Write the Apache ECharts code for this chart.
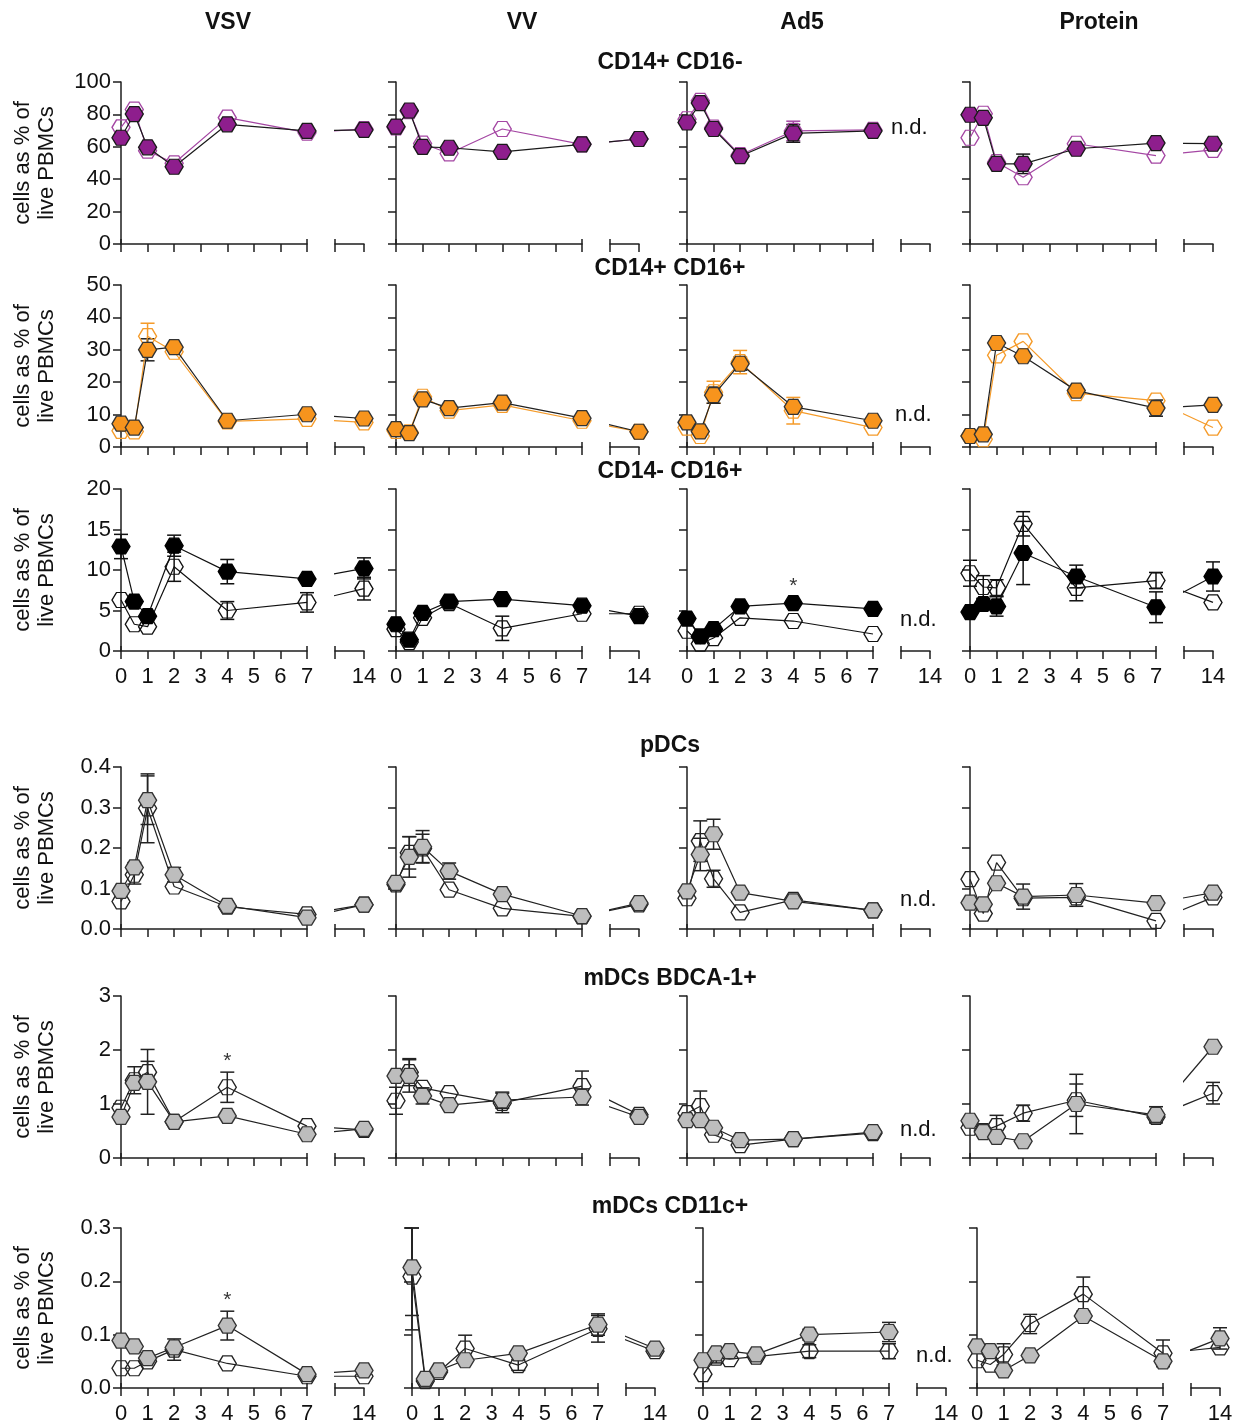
<!DOCTYPE html>
<html>
<head>
<meta charset="utf-8">
<script src="https://cdn.jsdelivr.net/npm/echarts@6/dist/echarts.min.js"></script>
<style>
  html, body { margin: 0; background: #fff; }
  #chart { width: 1247px; height: 1425px; }
</style>
</head>
<body>
<div id="chart"></div>
<script>
// Myeloid cell kinetics after vaccination - 6 populations x 4 vectors
// Broken x axis (days 0-7 | 14), filled vs open groups, mean +/- SEM.

const days = [0, 0.5, 1, 2, 4, 7, 14];
const vectors = ['VSV', 'VV', 'Ad5', 'Protein'];
const populations = ['CD14+ CD16-', 'CD14+ CD16+', 'CD14- CD16+', 'pDCs', 'mDCs BDCA-1+', 'mDCs CD11c+'];
const yMax = [100, 50, 20, 0.4, 3, 0.3];
const yStep = [20, 10, 5, 0.1, 1, 0.1];
const yDecimals = [0, 0, 0, 1, 0, 1];
const lateDayLabel = '14';
const yTitle = 'cells as % of\nlive PBMCs';
const notDone = 'n.d.';

// CD14+ CD16-
const mono_VSV_fill = [65.6, 80.2, 59.7, 47.7, 73.9, 69.8, 70.4];
const mono_VSV_fillSem = [0, 0, 0, 0, 0, 0, 0];
const mono_VSV_open = [72.0, 83.0, 57.6, 49.8, 78.0, 68.7, 71.0];
const mono_VSV_openSem = [0, 0, 0, 0, 0, 0, 0];
const mono_VV_fill = [72.5, 82.4, 60.0, 59.4, 56.9, 61.5, 64.8];
const mono_VV_fillSem = [0, 0, 0, 0, 0, 0, 0];
const mono_VV_open = [72.0, 82.0, 62.0, 55.9, 71.0, 61.5, 64.8];
const mono_VV_openSem = [0, 0, 0, 0, 0, 0, 0];
const mono_Ad5_fill = [75.0, 87.0, 71.0, 54.2, 68.3, 69.8, null];
const mono_Ad5_fillSem = [0, 0, 0, 0, 5.5, 0, null];
const mono_Ad5_open = [77.0, 88.4, 71.8, 54.9, 69.8, 70.4, null];
const mono_Ad5_openSem = [0, 1.5, 0, 0, 6.0, 0, null];
const mono_Prot_fill = [79.8, 77.9, 49.5, 49.5, 58.8, 62.3, 61.9];
const mono_Prot_fillSem = [0, 0, 0, 6.0, 0, 0, 0];
const mono_Prot_open = [65.6, 80.4, 50.5, 41.2, 61.9, 54.6, 58.1];
const mono_Prot_openSem = [0, 0, 0, 0, 0, 0, 0];

// CD14+ CD16+
const inter_VSV_fill = [7.2, 6.0, 30.0, 30.8, 8.1, 10.1, 8.8];
const inter_VSV_fillSem = [0, 0, 3.4, 0, 0, 0, 0];
const inter_VSV_open = [5.0, 4.8, 34.2, 29.4, 7.9, 8.7, 7.6];
const inter_VSV_openSem = [0, 0, 4.0, 0, 0, 0, 0];
const inter_VV_fill = [5.5, 4.3, 14.7, 12.0, 13.7, 8.9, 4.7];
const inter_VV_fillSem = [0, 0, 0, 0, 0, 0, 0];
const inter_VV_open = [5.0, 4.5, 15.5, 11.2, 13.0, 8.1, 4.7];
const inter_VV_openSem = [0, 0, 0, 0, 0, 0, 0];
const inter_Ad5_fill = [7.6, 4.8, 16.0, 25.7, 12.4, 8.1, null];
const inter_Ad5_fillSem = [0, 0, 2.5, 2.0, 0, 0, null];
const inter_Ad5_open = [6.0, 3.4, 16.9, 26.2, 11.2, 6.0, null];
const inter_Ad5_openSem = [0, 0, 3.4, 3.6, 4.1, 0, null];
const inter_Prot_fill = [3.4, 3.9, 32.1, 28.0, 17.4, 12.0, 13.0];
const inter_Prot_fillSem = [0, 0, 0, 0, 0, 2.5, 0];
const inter_Prot_open = [3.4, 2.4, 28.3, 32.6, 16.6, 14.3, 6.0];
const inter_Prot_openSem = [0, 0, 0, 0, 0, 0, 0];

// CD14- CD16+
const nonc_VSV_fill = [12.9, 6.1, 4.3, 13.0, 9.8, 8.9, 10.2];
const nonc_VSV_fillSem = [1.5, 0, 0, 1.3, 1.5, 0, 1.3];
const nonc_VSV_open = [6.3, 3.3, 3.0, 10.4, 5.0, 6.0, 7.7];
const nonc_VSV_openSem = [0, 0, 0, 1.8, 1.1, 1.2, 1.4];
const nonc_VV_fill = [3.3, 1.4, 4.7, 6.1, 6.4, 5.6, 4.3];
const nonc_VV_fillSem = [0, 0, 0, 0, 0, 0, 0];
const nonc_VV_open = [2.7, 1.1, 4.1, 5.9, 2.8, 4.6, 4.6];
const nonc_VV_openSem = [0, 0, 0, 0, 1.5, 0, 0];
const nonc_Ad5_fill = [4.0, 1.8, 2.7, 5.5, 5.9, 5.2, null];
const nonc_Ad5_fillSem = [0, 0, 0, 0, 0, 0, null];
const nonc_Ad5_open = [2.5, 0.9, 1.6, 4.1, 3.7, 2.1, null];
const nonc_Ad5_openSem = [0, 0, 0, 0, 0, 0, null];
const nonc_Prot_fill = [4.8, 5.8, 5.5, 12.1, 9.2, 5.4, 9.2];
const nonc_Prot_fillSem = [0, 0.6, 1.2, 3.9, 1.4, 1.9, 1.8];
const nonc_Prot_open = [9.6, 7.9, 7.8, 15.7, 7.8, 8.7, 6.0];
const nonc_Prot_openSem = [1.6, 1.4, 1.0, 1.5, 1.6, 1.0, 0];

// pDCs
const pdc_VSV_fill = [0.094, 0.152, 0.318, 0.134, 0.057, 0.028, 0.060];
const pdc_VSV_fillSem = [0, 0.012, 0.060, 0.018, 0, 0, 0];
const pdc_VSV_open = [0.068, 0.134, 0.298, 0.105, 0.055, 0.036, 0.060];
const pdc_VSV_openSem = [0, 0.023, 0.085, 0, 0, 0, 0];
const pdc_VV_fill = [0.114, 0.178, 0.203, 0.143, 0.086, 0.032, 0.064];
const pdc_VV_fillSem = [0, 0.050, 0.040, 0.020, 0, 0, 0];
const pdc_VV_open = [0.110, 0.188, 0.199, 0.097, 0.051, 0.031, 0.061];
const pdc_VV_openSem = [0, 0.040, 0.035, 0, 0, 0, 0];
const pdc_Ad5_fill = [0.093, 0.184, 0.234, 0.090, 0.068, 0.046, null];
const pdc_Ad5_fillSem = [0, 0.040, 0.037, 0, 0, 0, null];
const pdc_Ad5_open = [0.076, 0.217, 0.124, 0.041, 0.072, 0.046, null];
const pdc_Ad5_openSem = [0, 0.050, 0.021, 0, 0, 0, null];
const pdc_Prot_fill = [0.065, 0.061, 0.113, 0.080, 0.084, 0.064, 0.090];
const pdc_Prot_fillSem = [0, 0, 0, 0.031, 0.028, 0, 0];
const pdc_Prot_open = [0.123, 0.038, 0.164, 0.076, 0.078, 0.020, 0.078];
const pdc_Prot_openSem = [0, 0, 0, 0, 0, 0, 0];

// mDCs BDCA-1+
const mdc1_VSV_fill = [0.76, 1.39, 1.41, 0.67, 0.78, 0.44, 0.54];
const mdc1_VSV_fillSem = [0, 0, 0.60, 0, 0, 0, 0];
const mdc1_VSV_open = [0.93, 1.44, 1.59, 0.67, 1.31, 0.59, 0.52];
const mdc1_VSV_openSem = [0, 0.25, 0.20, 0, 0.28, 0, 0];
const mdc1_VV_fill = [1.52, 1.52, 1.15, 0.98, 1.07, 1.13, 0.76];
const mdc1_VV_fillSem = [0, 0.30, 0.15, 0, 0.15, 0.15, 0];
const mdc1_VV_open = [1.06, 1.59, 1.30, 1.20, 1.02, 1.33, 0.80];
const mdc1_VV_openSem = [0.25, 0.25, 0, 0, 0.18, 0.28, 0];
const mdc1_Ad5_fill = [0.70, 0.70, 0.56, 0.33, 0.35, 0.48, null];
const mdc1_Ad5_fillSem = [0, 0, 0, 0, 0, 0, null];
const mdc1_Ad5_open = [0.83, 0.96, 0.43, 0.24, 0.35, 0.46, null];
const mdc1_Ad5_openSem = [0, 0.28, 0, 0, 0, 0, null];
const mdc1_Prot_fill = [0.69, 0.48, 0.39, 0.31, 1.00, 0.80, 2.06];
const mdc1_Prot_fillSem = [0, 0, 0, 0, 0.55, 0.15, 0];
const mdc1_Prot_open = [0.56, 0.50, 0.59, 0.83, 1.07, 0.76, 1.20];
const mdc1_Prot_openSem = [0, 0, 0.20, 0.15, 0.30, 0, 0.20];

// mDCs CD11c+
const mdc11_VSV_fill = [0.089, 0.078, 0.056, 0.076, 0.117, 0.026, 0.033];
const mdc11_VSV_fillSem = [0, 0, 0, 0, 0.027, 0, 0];
const mdc11_VSV_open = [0.037, 0.037, 0.050, 0.072, 0.046, 0.022, 0.022];
const mdc11_VSV_openSem = [0, 0, 0, 0.020, 0, 0, 0];
const mdc11_VV_fill = [0.226, 0.017, 0.033, 0.052, 0.065, 0.119, 0.074];
const mdc11_VV_fillSem = [0.090, 0, 0, 0, 0, 0.020, 0];
const mdc11_VV_open = [0.209, 0.013, 0.030, 0.074, 0.043, 0.111, 0.069];
const mdc11_VV_openSem = [0.100, 0, 0, 0.025, 0.010, 0.025, 0];
const mdc11_Ad5_fill = [0.052, 0.065, 0.069, 0.063, 0.100, 0.105, null];
const mdc11_Ad5_fillSem = [0, 0, 0, 0, 0.010, 0.018, null];
const mdc11_Ad5_open = [0.026, 0.057, 0.054, 0.059, 0.069, 0.069, null];
const mdc11_Ad5_openSem = [0, 0.010, 0, 0, 0.012, 0.014, null];
const mdc11_Prot_fill = [0.078, 0.069, 0.033, 0.061, 0.135, 0.050, 0.093];
const mdc11_Prot_fillSem = [0, 0, 0, 0, 0, 0, 0.020];
const mdc11_Prot_open = [0.052, 0.044, 0.063, 0.120, 0.176, 0.065, 0.076];
const mdc11_Prot_openSem = [0, 0, 0.020, 0.018, 0.032, 0.025, 0];

// significance stars: [population, vector, day index, group]
const starMarks = [[2, 2, 4, 'fill'], [4, 0, 4, 'open'], [5, 0, 4, 'fill']];

const table = [
    [[mono_VSV_fill, mono_VSV_fillSem, mono_VSV_open, mono_VSV_openSem],
     [mono_VV_fill, mono_VV_fillSem, mono_VV_open, mono_VV_openSem],
     [mono_Ad5_fill, mono_Ad5_fillSem, mono_Ad5_open, mono_Ad5_openSem],
     [mono_Prot_fill, mono_Prot_fillSem, mono_Prot_open, mono_Prot_openSem]],
    [[inter_VSV_fill, inter_VSV_fillSem, inter_VSV_open, inter_VSV_openSem],
     [inter_VV_fill, inter_VV_fillSem, inter_VV_open, inter_VV_openSem],
     [inter_Ad5_fill, inter_Ad5_fillSem, inter_Ad5_open, inter_Ad5_openSem],
     [inter_Prot_fill, inter_Prot_fillSem, inter_Prot_open, inter_Prot_openSem]],
    [[nonc_VSV_fill, nonc_VSV_fillSem, nonc_VSV_open, nonc_VSV_openSem],
     [nonc_VV_fill, nonc_VV_fillSem, nonc_VV_open, nonc_VV_openSem],
     [nonc_Ad5_fill, nonc_Ad5_fillSem, nonc_Ad5_open, nonc_Ad5_openSem],
     [nonc_Prot_fill, nonc_Prot_fillSem, nonc_Prot_open, nonc_Prot_openSem]],
    [[pdc_VSV_fill, pdc_VSV_fillSem, pdc_VSV_open, pdc_VSV_openSem],
     [pdc_VV_fill, pdc_VV_fillSem, pdc_VV_open, pdc_VV_openSem],
     [pdc_Ad5_fill, pdc_Ad5_fillSem, pdc_Ad5_open, pdc_Ad5_openSem],
     [pdc_Prot_fill, pdc_Prot_fillSem, pdc_Prot_open, pdc_Prot_openSem]],
    [[mdc1_VSV_fill, mdc1_VSV_fillSem, mdc1_VSV_open, mdc1_VSV_openSem],
     [mdc1_VV_fill, mdc1_VV_fillSem, mdc1_VV_open, mdc1_VV_openSem],
     [mdc1_Ad5_fill, mdc1_Ad5_fillSem, mdc1_Ad5_open, mdc1_Ad5_openSem],
     [mdc1_Prot_fill, mdc1_Prot_fillSem, mdc1_Prot_open, mdc1_Prot_openSem]],
    [[mdc11_VSV_fill, mdc11_VSV_fillSem, mdc11_VSV_open, mdc11_VSV_openSem],
     [mdc11_VV_fill, mdc11_VV_fillSem, mdc11_VV_open, mdc11_VV_openSem],
     [mdc11_Ad5_fill, mdc11_Ad5_fillSem, mdc11_Ad5_open, mdc11_Ad5_openSem],
     [mdc11_Prot_fill, mdc11_Prot_fillSem, mdc11_Prot_open, mdc11_Prot_openSem]]
];

(function () {
    'use strict';

    const FONT = '"Liberation Sans", Arial, sans-serif';
    const AXIS = '#1e1e1e';
    const hexagon = 'path://M0,8L4.5,0L13.5,0L18,8L13.5,16L4.5,16Z';
    const HEX_SIZE = [18, 15];

    // layout (pixels)
    const colLeft = [121, 396, 687, 970];
    const colLeftLast = [121, 412, 703, 977];
    const rowTop = [82, 285, 489, 767, 996, 1228];
    const titleX = [228, 522, 802, 1099];
    const rowTitleY = [62, 268, 471, 745, 978, 1206];
    const ndPos = [[891, 128], [895, 415], [900, 620], [900, 900], [900, 1130], [916, 1356]];
    const plotW = 186, plotH = 162, gapW = 28, lateW = 29;

    const rowStyle = [
        { fill: '#8e1e8d', fillEdge: '#1a1a1a', fillLine: '#1a1a1a', open: '#a446a3' },
        { fill: '#f7941d', fillEdge: '#333333', fillLine: '#222222', open: '#f59b2a' },
        { fill: '#000000', fillEdge: '#000000', fillLine: '#111111', open: '#111111' },
        { fill: '#bdbdbd', fillEdge: '#333333', fillLine: '#222222', open: '#222222' },
        { fill: '#bdbdbd', fillEdge: '#333333', fillLine: '#222222', open: '#222222' },
        { fill: '#bdbdbd', fillEdge: '#333333', fillLine: '#222222', open: '#222222' }
    ];

    function errRender(params, api) {
        const e = api.value(2);
        if (!e) return null;
        const x = api.value(0), y = api.value(1);
        const cs = params.coordSys;
        const cx = api.coord([x, y])[0];
        const top = Math.max(api.coord([x, y + e])[1], cs.y);
        const bot = Math.min(api.coord([x, y - e])[1], cs.y + cs.height);
        const style = { stroke: api.visual('color'), lineWidth: 1.5 };
        return {
            type: 'group',
            children: [
                { type: 'line', shape: { x1: cx, y1: top, x2: cx, y2: bot }, style },
                { type: 'line', shape: { x1: cx - 7, y1: top, x2: cx + 7, y2: top }, style },
                { type: 'line', shape: { x1: cx - 7, y1: bot, x2: cx + 7, y2: bot }, style }
            ]
        };
    }

    const grids = [], xAxes = [], yAxes = [], series = [];
    const panelAxes = [];

    populations.forEach((pop, r) => {
        panelAxes.push([]);
        vectors.forEach((vec, c) => {
            const left = (r === 5 ? colLeftLast : colLeft)[c];
            const top = rowTop[r];
            const gi = grids.length;
            grids.push({ left, top, width: plotW, height: plotH });
            grids.push({ left: left + plotW + gapW, top, width: lateW, height: plotH });

            const showX = r === 2 || r === 5;
            const lineStyle = { color: AXIS, width: 1.5 };
            const xi = xAxes.length;
            xAxes.push({
                gridIndex: gi, type: 'value', min: 0, max: 7, interval: 1, position: 'bottom',
                axisLine: { show: true, onZero: false, lineStyle },
                axisTick: { show: true, length: 8, lineStyle },
                axisLabel: { show: showX, margin: 15, fontSize: 22, fontFamily: FONT, color: '#111' },
                splitLine: { show: false }
            });
            xAxes.push({
                gridIndex: gi + 1, type: 'value', min: 10.5, max: 14, interval: 3.5, position: 'bottom',
                axisLine: { show: true, onZero: false, lineStyle },
                axisTick: { show: true, length: 8, lineStyle },
                axisLabel: {
                    show: showX, margin: 15, fontSize: 22, fontFamily: FONT, color: '#111',
                    formatter: v => (v === 14 ? lateDayLabel : '')
                },
                splitLine: { show: false }
            });
            // break marks: ticks crossing the axis at the cut
            xAxes.push({
                gridIndex: gi, type: 'value', min: 0, max: 7, interval: 7, position: 'bottom',
                axisLine: { show: false }, axisLabel: { show: false }, splitLine: { show: false },
                axisTick: { show: true, inside: true, length: 5, lineStyle }
            });
            xAxes.push({
                gridIndex: gi + 1, type: 'value', min: 10.5, max: 14, interval: 3.5, position: 'bottom',
                axisLine: { show: false }, axisLabel: { show: false }, splitLine: { show: false },
                axisTick: { show: true, inside: true, length: 5, lineStyle, customValues: [10.5] }
            });

            const yi = yAxes.length;
            yAxes.push({
                gridIndex: gi, type: 'value', min: 0, max: yMax[r], interval: yStep[r],
                axisLine: { show: true, lineStyle },
                axisTick: { show: true, length: 8, lineStyle },
                axisLabel: {
                    show: c === 0, margin: 10, fontSize: 22, fontFamily: FONT, color: '#111',
                    formatter: v => v.toFixed(yDecimals[r])
                },
                splitLine: { show: false },
                name: c === 0 ? yTitle : '',
                nameLocation: 'middle', nameRotate: 90, nameGap: 62,
                nameTextStyle: { fontSize: 22, lineHeight: 24, fontFamily: FONT, color: '#111' }
            });
            yAxes.push({ gridIndex: gi + 1, type: 'value', min: 0, max: yMax[r], show: false });
            panelAxes[r].push({ xi, yi });

            const [fv, fs, ov, os] = table[r][c];
            const st = rowStyle[r];
            const early = vals => days.slice(0, 6).map((d, i) => [d, vals[i]]);

            const groups = [
                { vals: ov, sem: os, color: 'rgba(255,255,255,0)', edge: st.open, line: st.open, z: 3 },
                { vals: fv, sem: fs, color: st.fill, edge: st.fillEdge, line: st.fillLine, z: 4 }
            ];
            groups.forEach(g => {
                const errData = [];
                const lateErr = [];
                g.vals.forEach((v, i) => {
                    if (v == null || !g.sem[i]) return;
                    (i < 6 ? errData : lateErr).push([days[i], v, g.sem[i]]);
                });
                const errColor = g.line;
                series.push({
                    type: 'custom', xAxisIndex: xi, yAxisIndex: yi, data: errData,
                    encode: { x: 0, y: 1 }, renderItem: errRender, clip: false,
                    itemStyle: { color: errColor }, z: 2, silent: true
                });
                const symbolStyle = { color: g.color, borderColor: g.edge, borderWidth: 1.3, opacity: 1 };
                series.push({
                    type: 'line', xAxisIndex: xi, yAxisIndex: yi, data: early(g.vals),
                    symbol: hexagon, symbolSize: HEX_SIZE, showSymbol: true,
                    itemStyle: symbolStyle, lineStyle: { color: g.line, width: 1.2 },
                    clip: false, z: g.z, silent: true
                });
                if (g.vals[6] != null) {
                    series.push({
                        type: 'line', xAxisIndex: xi + 1, yAxisIndex: yi + 1,
                        data: [[days[5], g.vals[5]], [days[6], g.vals[6]]],
                        showSymbol: false, lineStyle: { color: g.line, width: 1.2 },
                        clip: true, z: g.z, silent: true
                    });
                    series.push({
                        type: 'custom', xAxisIndex: xi + 1, yAxisIndex: yi + 1, data: lateErr,
                        encode: { x: 0, y: 1 }, renderItem: errRender, clip: false,
                        itemStyle: { color: errColor }, z: 2, silent: true
                    });
                    series.push({
                        type: 'scatter', xAxisIndex: xi + 1, yAxisIndex: yi + 1,
                        data: [[days[6], g.vals[6]]], symbol: hexagon, symbolSize: HEX_SIZE,
                        itemStyle: symbolStyle, clip: false, z: g.z, silent: true
                    });
                }
            });
        });
    });

    // significance asterisks, sat on top of the error bar
    starMarks.forEach(([r, c, i, grp]) => {
        const [fv, fs, ov, os] = table[r][c];
        const v = grp === 'fill' ? fv[i] : ov[i];
        const s = (grp === 'fill' ? fs[i] : os[i]) || 0;
        const { xi, yi } = panelAxes[r][c];
        series.push({
            type: 'scatter', xAxisIndex: xi, yAxisIndex: yi, data: [[days[i], v + s]],
            symbolSize: 1, itemStyle: { color: 'rgba(0,0,0,0)' }, silent: true, z: 5,
            label: {
                show: true, formatter: '*', position: 'top', distance: s ? 0 : 6,
                fontSize: 21, fontFamily: FONT, color: '#000'
            }
        });
    });

    const graphic = [];
    vectors.forEach((v, c) => graphic.push({
        type: 'text', x: titleX[c], y: 23,
        style: { text: v, font: 'bold 23px ' + FONT, fill: '#111', align: 'center', verticalAlign: 'middle' }
    }));
    populations.forEach((p, r) => {
        graphic.push({
            type: 'text', x: 670, y: rowTitleY[r] + 1,
            style: { text: p, font: 'bold 23px ' + FONT, fill: '#111', align: 'center', verticalAlign: 'middle' }
        });
        graphic.push({
            type: 'text', x: ndPos[r][0], y: ndPos[r][1],
            style: { text: notDone, font: '22px ' + FONT, fill: '#111', align: 'left', verticalAlign: 'middle' }
        });
    });

    const chart = echarts.init(document.getElementById('chart'), null, { renderer: 'canvas' });
    chart.setOption({
        animation: false,
        backgroundColor: '#ffffff',
        grid: grids,
        xAxis: xAxes,
        yAxis: yAxes,
        series,
        graphic
    });

    window.addEventListener('resize', () => chart.resize());
})();
</script>
</body>
</html>
